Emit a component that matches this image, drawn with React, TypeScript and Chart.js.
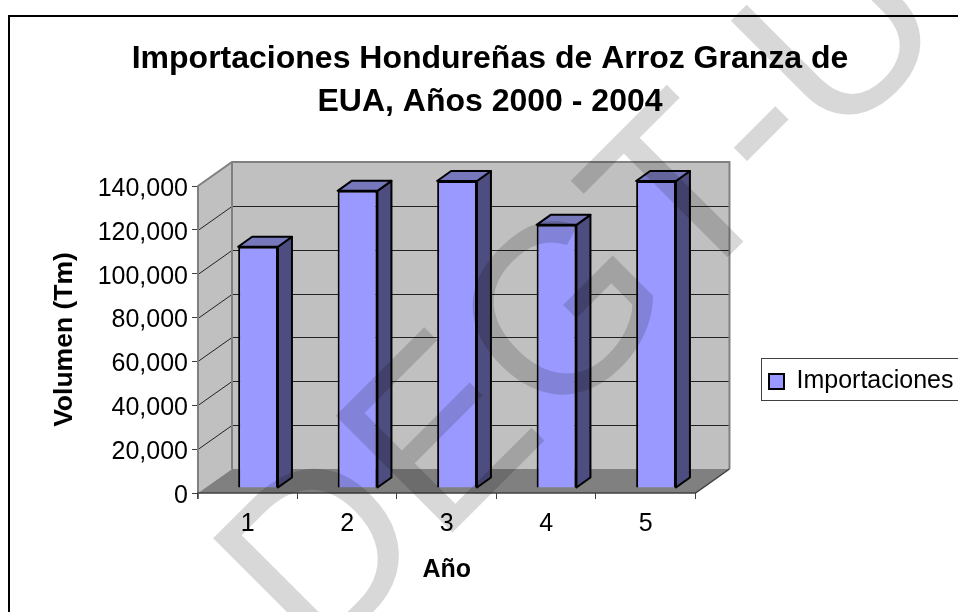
import React, { useEffect, useRef } from "react";
import { Chart, registerables } from "chart.js";

Chart.register(...registerables);

const categories = ["1", "2", "3", "4", "5"];
const importaciones = [110000, 135500, 140000, 120000, 140000];
const seriesName = "Importaciones";
const titleLines = ["Importaciones Hondureñas de Arroz Granza de", "EUA, Años 2000 - 2004"];
const yTitle = "Volumen (Tm)";
const xTitle = "Año";
const watermark = "DEGT-U";

const FONT = "'Liberation Sans', Arial, sans-serif";
const WALL = { dx: 34, dy: -24 };
const BAR = { dx: 14, dy: -10, shiftX: 10.3, shiftY: -5 };

const scene = {
  id: "scene3d",
  beforeDatasetsDraw(chart: any) {
    const { ctx, scales } = chart;
    const x0 = scales.x.left, x1 = scales.x.right;
    const yb = scales.y.getPixelForValue(0), yt = scales.y.getPixelForValue(140000);
    const { dx, dy } = WALL;
    ctx.save();
    // back wall
    ctx.fillStyle = "#C0C0C0";
    ctx.fillRect(x0 + dx, yt + dy, x1 - x0, yb - yt);
    // left wall
    ctx.beginPath();
    ctx.moveTo(x0, yt); ctx.lineTo(x0 + dx, yt + dy); ctx.lineTo(x0 + dx, yb + dy); ctx.lineTo(x0, yb);
    ctx.closePath(); ctx.fill();
    // floor
    ctx.fillStyle = "#808080";
    ctx.beginPath();
    ctx.moveTo(x0, yb); ctx.lineTo(x1, yb); ctx.lineTo(x1 + dx, yb + dy); ctx.lineTo(x0 + dx, yb + dy);
    ctx.closePath(); ctx.fill();
    // grid
    ctx.strokeStyle = "#222";
    ctx.lineWidth = 1;
    scales.y.ticks.forEach((t: any) => {
      if (t.value === 0 || t.value === 140000) return;
      const y = Math.round(scales.y.getPixelForValue(t.value)) + 0.5;
      ctx.beginPath();
      ctx.moveTo(x0, y); ctx.lineTo(x0 + dx, y + dy); ctx.lineTo(x1 + dx, y + dy);
      ctx.stroke();
    });
    // wall edges
    ctx.strokeStyle = "#808080";
    ctx.lineWidth = 2;
    ctx.beginPath();
    ctx.moveTo(x0, yb); ctx.lineTo(x0, yt); ctx.lineTo(x0 + dx, yt + dy); ctx.lineTo(x1 + dx, yt + dy); ctx.lineTo(x1 + dx, yb + dy);
    ctx.moveTo(x0 + dx, yt + dy); ctx.lineTo(x0 + dx, yb + dy);
    ctx.stroke();
    ctx.strokeStyle = "#404040";
    ctx.lineWidth = 1.5;
    ctx.beginPath();
    ctx.moveTo(x0, yb + 6); ctx.lineTo(x0, yb); ctx.lineTo(x1, yb); ctx.lineTo(x1 + dx, yb + dy);
    ctx.stroke();
    // bar side and top faces
    const meta = chart.getDatasetMeta(0);
    ctx.strokeStyle = "#000";
    ctx.lineWidth = 2;
    ctx.lineJoin = "round";
    meta.data.forEach((b: any) => {
      const l = b.x - b.width / 2 + BAR.shiftX, r = b.x + b.width / 2 + BAR.shiftX;
      const t = b.y + BAR.shiftY, base = b.base + BAR.shiftY;
      ctx.fillStyle = "#4D4D80";
      ctx.beginPath();
      ctx.moveTo(r, t); ctx.lineTo(r + BAR.dx, t + BAR.dy); ctx.lineTo(r + BAR.dx, base + BAR.dy); ctx.lineTo(r, base);
      ctx.closePath(); ctx.fill(); ctx.stroke();
      ctx.fillStyle = "#7777BB";
      ctx.beginPath();
      ctx.moveTo(l, t); ctx.lineTo(l + BAR.dx, t + BAR.dy); ctx.lineTo(r + BAR.dx, t + BAR.dy); ctx.lineTo(r, t);
      ctx.closePath(); ctx.fill(); ctx.stroke();
    });
    ctx.restore();
  },
  beforeDatasetDraw(chart: any) {
    chart.ctx.save();
    chart.ctx.translate(BAR.shiftX, BAR.shiftY);
  },
  afterDatasetDraw(chart: any) {
    chart.ctx.restore();
  },
  afterLayout(chart: any) {
    const lg = chart.legend, tt = chart.titleBlock;
    if (tt) { tt.left = 22; tt.right = 958; }
    if (lg) {
      const w = lg.right - lg.left, h = lg.bottom - lg.top;
      lg.left = 760; lg.right = 760 + w; lg.top = 360; lg.bottom = 360 + h;
    }
  },
  beforeDraw(chart: any) {
    const { ctx } = chart;
    ctx.save();
    ctx.fillStyle = "#fff";
    ctx.fillRect(0, 0, chart.width, chart.height);
    ctx.strokeStyle = "#000";
    ctx.lineWidth = 2;
    ctx.strokeRect(9, 16, 1000, 1000);
    ctx.lineWidth = 1;
    ctx.strokeStyle = "#404040";
    ctx.strokeRect(761.5, 358.5, 300, 42);
    ctx.restore();
  },
  afterDraw(chart: any) {
    const { ctx } = chart;
    ctx.save();
    ctx.globalCompositeOperation = "multiply";
    ctx.fillStyle = "#D8D8D8";
    ctx.translate(316, 669);
    ctx.rotate(-Math.PI / 4);
    ctx.font = `240px ${FONT}`;
    ctx.textBaseline = "alphabetic";
    ctx.fillText(watermark, 0, 0);
    ctx.restore();
  },
};

export default function App() {
  const ref = useRef<HTMLCanvasElement>(null);
  useEffect(() => {
    const chart = new Chart(ref.current!, {
      type: "bar",
      data: {
        labels: categories,
        datasets: [{
          label: seriesName,
          data: importaciones,
          backgroundColor: "#9999FF",
          borderColor: "#000",
          borderWidth: 2,
          barPercentage: 0.4,
          categoryPercentage: 1,
          clip: false,
        } as any],
      },
      options: {
        animation: false,
        responsive: false,
        layout: { padding: { left: 0, top: 0, right: 59, bottom: 0 } },
        plugins: {
          tooltip: { enabled: false },
          title: {
            display: true,
            text: titleLines,
            color: "#000",
            font: { family: FONT, size: 32, weight: "bold", lineHeight: 1.34 },
            padding: { top: 37.5, bottom: 62.74 },
          },
          legend: {
            display: true,
            position: "right",
            align: "start",
            onClick: () => {},
            labels: {
              color: "#000",
              font: { family: FONT, size: 25 },
              boxWidth: 15,
              boxHeight: 15,
              padding: 9,
              generateLabels: () => [{
                text: seriesName,
                fillStyle: "#9999FF",
                strokeStyle: "#000",
                lineWidth: 2,
                datasetIndex: 0,
              }],
            },
          },
        },
        scales: {
          x: {
            type: "category",
            grid: { display: true, drawOnChartArea: false, drawTicks: true, tickLength: 6, color: "#404040", lineWidth: 1 },
            border: { display: false },
            ticks: { color: "#000", font: { family: FONT, size: 25 }, padding: 10, maxRotation: 0 },
            title: { display: true, text: xTitle, color: "#000", font: { family: FONT, size: 25, weight: "bold" }, padding: { top: 27, bottom: 27 } },
            afterFit: (s: any) => { s.height = 119; },
          },
          y: {
            type: "linear",
            min: 0,
            max: 140000,
            ticks: { stepSize: 20000, color: "#000", font: { family: FONT, size: 25 }, padding: 4, labelOffset: 3, callback: (v: any) => Number(v).toLocaleString("en-US") },
            grid: { display: true, drawOnChartArea: false, tickLength: 6, color: "#404040", lineWidth: 1 },
            border: { display: false },
            title: { display: true, text: yTitle, color: "#000", font: { family: FONT, size: 26.5, weight: "bold" }, padding: { top: 49, bottom: 49 } },
            afterFit: (s: any) => { s.width = 198; },
          },
        },
      },
      plugins: [scene],
    } as any);
    return () => chart.destroy();
  }, []);
  return (
    <div style={{ position: "fixed", left: 0, top: 0, width: 958, height: 612, overflow: "hidden", background: "#fff" }}>
      <canvas ref={ref} width={958} height={612} style={{ display: "block" }} />
    </div>
  );
}
